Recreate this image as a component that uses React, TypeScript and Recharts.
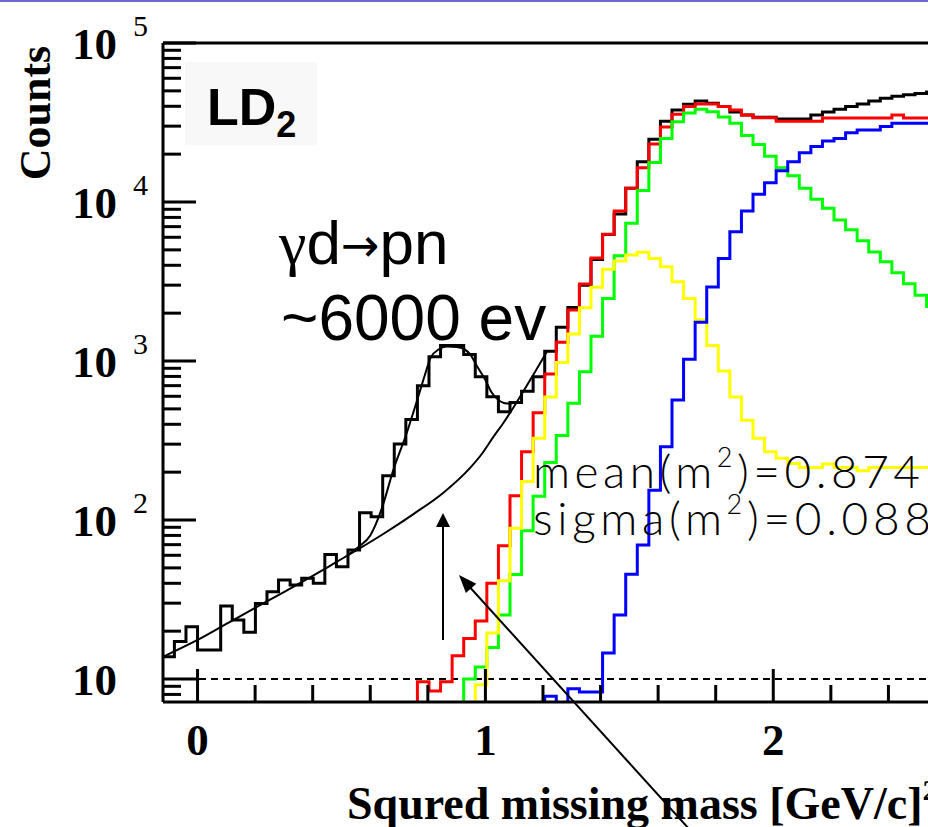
import { LineChart, Line, XAxis, YAxis, ReferenceLine } from 'recharts'

// histogram binning (squared missing mass, GeV^2)
const BIN_WIDTH = 0.0402
const FIRST_BIN = -3
const LAST_BIN = 63

// measured data (black), bins -3 .. 63
const dataCounts = [
    13.8, 17.2, 21.3,
    15.2, 15.2, 28.8, 23.5, 19.7, 29.9, 35.4, 42, 39, 43,
    40, 60.8, 50.8, 64.7, 111, 105, 190, 301, 429, 700,
    1064, 1250, 1250, 1100, 796, 597, 480, 548, 645, 796,
    1150, 1630, 2170, 3000, 4350, 6250, 8400, 12200, 17900, 24800,
    32200, 37900, 41200, 43100, 41800, 39800, 36800, 35200, 34100, 34100,
    33300, 33300, 33300, 35200, 36800, 38300, 39800, 41300, 43100, 44900,
    46200, 47200, 48200, 49200
]

// simulation sum (red), from bin 19
const redFrom = 19
const redCounts = [
    9.6, 8.4, 9.6, 14.0, 18.0, 23.2, 40, 68.9, 142, 269,
    473, 830, 1310, 2094, 3048, 4440, 6270, 8770, 12200, 16400,
    23200, 29600, 35600, 39800, 41300, 41300, 39800, 37900, 35200, 33900,
    33900, 32200, 32200, 32200, 32200, 33800, 33800, 33800, 33800, 33800,
    33800, 35200, 33800, 33800, 33800
]

// green component, from bin 23
const greenFrom = 23
const greenCounts = [
    10.0, 11.9, 15.8, 25.3, 45.5, 85.7, 141, 230, 340, 542,
    857, 1430, 2477, 4600, 7350, 11800, 17700, 25100, 32000, 36300,
    38300, 36900, 34300, 31300, 26200, 23000, 19400, 16400, 14600, 12200,
    10400, 9120, 7700, 6700, 5700, 4850, 4210, 3590, 3060, 2590,
    2200
]

// yellow component, from bin 24
const yellowFrom = 24
const yellowCounts = [
    9.2, 19.5, 41.5, 88.7, 175, 327, 594, 978, 1479, 2163,
    2910, 3776, 4259, 4645, 4830, 4419, 3917, 3155, 2477, 1820,
    1254, 864, 594, 424, 327, 269, 245, 227, 214, 214,
    225, 214, 214, 204, 214, 214, 214, 214, 214, 214
]

// blue component, from bin 30
const blueFrom = 30
const blueCounts = [
    7.8, 0, 8.7, 8.3, 8.3, 14.6, 25.3, 45.6, 69.7, 154,
    289, 569, 1025, 1754, 2920, 4419, 6500, 8770, 11200, 13200,
    15700, 17900, 20400, 22300, 24200, 25100, 27300, 28400, 28400, 29800,
    31300, 31300, 31300, 31300
]

// fitted background curve
const bgX = [-0.12, 0.0, 0.1, 0.2, 0.3, 0.4, 0.48, 0.56, 0.645, 0.75, 0.853, 0.946, 0.99, 1.03, 1.06, 1.105, 1.166, 1.213]
const bgY = [13.8, 17.6, 22.2, 28.0, 35.2, 44.5, 54.1, 65.8, 81.7, 109, 148, 212, 264, 338, 402, 537, 817, 1140]

// background + gaussian (gd -> pn peak)
const peakX = [0.52, 0.56, 0.6, 0.64, 0.68, 0.726, 0.767, 0.79, 0.81, 0.84, 0.868, 0.9, 0.926, 0.95, 0.972, 1.0, 1.02, 1.04, 1.064, 1.085, 1.105]
const peakY = [60, 68, 80, 118, 206, 350, 600, 820, 1050, 1190, 1235, 1225, 1190, 1080, 920, 760, 640, 580, 545, 540, 550]

const xTicks = [0, 0.2, 0.4, 0.6, 0.8, 1, 1.2, 1.4, 1.6, 1.8, 2, 2.2, 2.4]
const decades = [10, 100, 1000, 10000, 100000]
const minorSteps = [2, 3, 4, 5, 6, 7, 8, 9]

const X_MIN = -0.12
const X_MAX = 2.5375
const Y_MIN = 7.17
const Y_MAX = 100000
const BELOW_AXIS = 1 // empty bins fall below the axis and get clipped

const PLOT_LEFT = 163
const PLOT_BOTTOM = 702

const yTicks = [8, 9, ...decades.flatMap((d) => (d < Y_MAX ? [d, ...minorSteps.map((m) => d * m)] : [d]))]

const pick = (values: number[], from: number, k: number) => {
    const i = k - from
    if (i < 0) return BELOW_AXIS
    const v = values[Math.min(i, values.length - 1)]
    return v > 0 ? v : BELOW_AXIS
}

const rows: any[] = []
for (let k = FIRST_BIN; k <= LAST_BIN + 1; k++) {
    rows.push({
        x: k * BIN_WIDTH,
        black: pick(dataCounts, FIRST_BIN, k),
        red: pick(redCounts, redFrom, k),
        green: pick(greenCounts, greenFrom, k),
        yellow: pick(yellowCounts, yellowFrom, k),
        blue: pick(blueCounts, blueFrom, k)
    })
}

const bgCurve = bgX.map((x, i) => ({ x, y: bgY[i] }))
const peakCurve = peakX.map((x, i) => ({ x, y: peakY[i] }))

const serif = "'Liberation Serif', 'Times New Roman', serif"
const sans = "'Liberation Sans', Arial, sans-serif"
const thin = "Lato, 'Open Sans', sans-serif"

const YTick = ({ y, payload }: any) => {
    const v = payload.value
    const lg = Math.log10(v)
    const exp = Math.round(lg)
    const major = Math.abs(lg - exp) < 1e-6
    return (
        <g>
            <line x1={PLOT_LEFT} x2={PLOT_LEFT + (major ? 33 : 18)} y1={y} y2={y} stroke="#000" strokeWidth={3} />
            {major && (
                <text x={117} y={y + 16} textAnchor="end" fontFamily={serif} fontWeight="bold" fontSize={45} fill="#000">
                    10
                </text>
            )}
            {major && exp > 1 && (
                <text x={133} y={y - 7} fontFamily={serif} fontSize={30} fill="#000">
                    {exp}
                </text>
            )}
        </g>
    )
}

const XTick = ({ x, payload }: any) => {
    const v = payload.value
    const major = Math.abs(v - Math.round(v)) < 1e-6
    return (
        <g>
            <line x1={x} x2={x} y1={PLOT_BOTTOM} y2={PLOT_BOTTOM - (major ? 33 : 17)} stroke="#000" strokeWidth={3} />
            {major && (
                <text x={x} y={755} textAnchor="middle" fontFamily={serif} fontWeight="bold" fontSize={45} fill="#000">
                    {Math.round(v)}
                </text>
            )}
        </g>
    )
}

const XLabel = () => (
    <text x={347} y={819} fontFamily={serif} fontWeight="bold" fontSize={46} fill="#000">
        Squred missing mass [GeV/c]
        <tspan dy={-19} fontSize={30}>2</tspan>
    </text>
)

const YLabel = () => (
    <text transform="translate(50,113) rotate(-90)" textAnchor="middle" fontFamily={serif} fontWeight="bold" fontSize={44} fill="#000">
        Counts
    </text>
)

const arrowHead = (tx: number, ty: number, fx: number, fy: number, len: number, half: number) => {
    const d = Math.hypot(tx - fx, ty - fy)
    const ux = (tx - fx) / d
    const uy = (ty - fy) / d
    const bx = tx - ux * len
    const by = ty - uy * len
    return `${tx},${ty} ${bx - uy * half},${by + ux * half} ${bx + uy * half},${by - ux * half}`
}

const Annotations = () => (
    <svg width={928} height={827} style={{ position: 'absolute', left: 0, top: 0, pointerEvents: 'none' }}>
        <rect x={0} y={0} width={928} height={2} fill="#6a6acc" />
        <rect x={185} y={62} width={132} height={83} fill="#f8f8f8" />
        <text x={207} y={125} fontFamily={sans} fontWeight="bold" fontSize={52} fill="#000">
            LD<tspan dy={12} fontSize={36}>2</tspan>
        </text>
        <text x={279} y={264} fontFamily={sans} fontSize={62} fill="#000">
            <tspan fontFamily={serif}>γ</tspan>d<tspan fontFamily="'DejaVu Sans', sans-serif" fontSize={46} dy={-3}>→</tspan>
            <tspan dy={3}>pn</tspan>
        </text>
        <text x={281} y={340} fontFamily={sans} fontSize={64} fill="#000">
            ~6000 ev
        </text>
        <text x={533} y={488} fontFamily={thin} fontWeight={300} fontSize={46} fill="#000" textLength={387} lengthAdjust="spacing">
            mean(m<tspan dy={-21} fontSize={27}>2</tspan>
            <tspan dy={21}>)=0.874</tspan>
        </text>
        <text x={533} y={535} fontFamily={thin} fontWeight={300} fontSize={46} fill="#000" textLength={398} lengthAdjust="spacing">
            sigma(m<tspan dy={-21} fontSize={27}>2</tspan>
            <tspan dy={21}>)=0.088</tspan>
        </text>
        <line x1={443} y1={640} x2={443} y2={524} stroke="#000" strokeWidth={2} />
        <polygon points={arrowHead(443, 513, 443, 640, 14, 7)} fill="#000" />
        <line x1={690} y1={830} x2={467} y2={584} stroke="#000" strokeWidth={2} />
        <polygon points={arrowHead(459, 575, 690, 830, 18, 7)} fill="#000" />
    </svg>
)

export default function App() {
    return (
        <div style={{ position: 'absolute', left: 0, top: 0, width: 928, height: 827, background: '#fff', overflow: 'hidden' }}>
            <LineChart width={928} height={827} data={rows} margin={{ top: 43, right: 0, bottom: 0, left: 0 }}>
                <XAxis
                    dataKey="x"
                    type="number"
                    domain={[X_MIN, X_MAX]}
                    allowDataOverflow
                    ticks={xTicks}
                    interval={0}
                    tick={<XTick />}
                    tickLine={false}
                    axisLine={{ stroke: '#000', strokeWidth: 3 }}
                    height={125}
                    label={<XLabel />}
                />
                <YAxis
                    type="number"
                    scale="log"
                    domain={[Y_MIN, Y_MAX]}
                    allowDataOverflow
                    ticks={yTicks}
                    interval={0}
                    tick={<YTick />}
                    tickLine={false}
                    axisLine={{ stroke: '#000', strokeWidth: 3 }}
                    width={163}
                    label={<YLabel />}
                />
                <ReferenceLine y={10} stroke="#000" strokeWidth={2} strokeDasharray="7 5" />
                <ReferenceLine y={Y_MAX} stroke="#000" strokeWidth={3} ifOverflow="visible" />
                <Line dataKey="black" type="stepAfter" stroke="#000" strokeWidth={3} dot={false} isAnimationActive={false} />
                <Line data={bgCurve} dataKey="y" type="monotone" stroke="#000" strokeWidth={2} dot={false} isAnimationActive={false} />
                <Line data={peakCurve} dataKey="y" type="monotone" stroke="#000" strokeWidth={2} dot={false} isAnimationActive={false} />
                <Line dataKey="red" type="stepAfter" stroke="#ff0000" strokeWidth={3} dot={false} isAnimationActive={false} />
                <Line dataKey="green" type="stepAfter" stroke="#00ff00" strokeWidth={3} dot={false} isAnimationActive={false} />
                <Line dataKey="yellow" type="stepAfter" stroke="#ffff00" strokeWidth={3} dot={false} isAnimationActive={false} />
                <Line dataKey="blue" type="stepAfter" stroke="#0000ff" strokeWidth={3} dot={false} isAnimationActive={false} />
            </LineChart>
            <Annotations />
        </div>
    )
}
